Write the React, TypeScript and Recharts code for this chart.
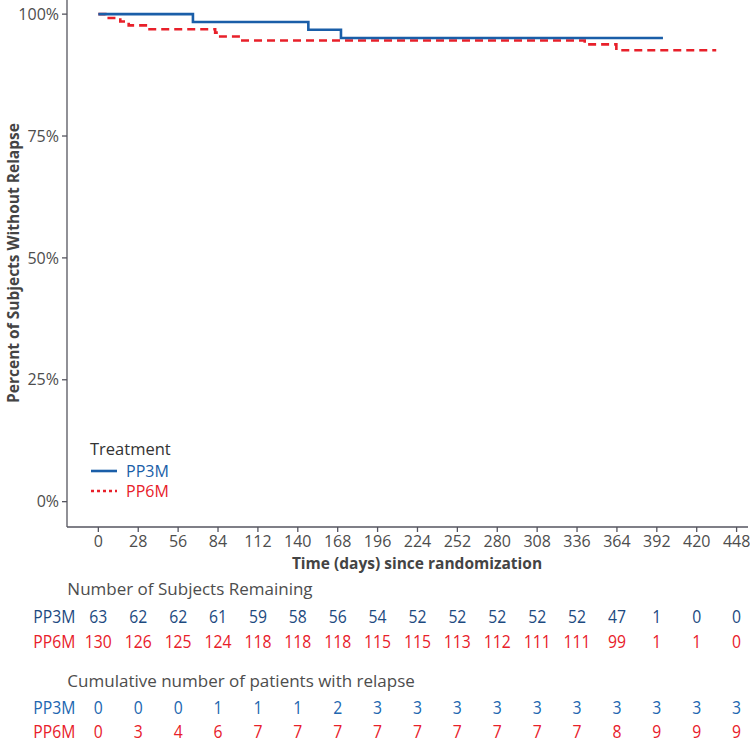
import React from 'react';
import { ComposedChart, Line, XAxis, YAxis } from 'recharts';

const pp3mCurve = [
  { t: 0, s: 100 },
  { t: 66.4, s: 98.4 },
  { t: 147.4, s: 96.8 },
  { t: 170.3, s: 95.1 },
  { t: 396.3, s: 95.1 },
];
const pp6mCurve = [
  { t: 0, s: 100 },
  { t: 4.9, s: 99.2 },
  { t: 15.4, s: 98.5 },
  { t: 21.3, s: 97.7 },
  { t: 34.6, s: 96.9 },
  { t: 82, s: 96.2 },
  { t: 84.4, s: 95.4 },
  { t: 99.5, s: 94.6 },
  { t: 341.4, s: 93.8 },
  { t: 363.6, s: 92.6 },
  { t: 433.7, s: 92.6 },
];
const timeTicks = [0, 28, 56, 84, 112, 140, 168, 196, 224, 252, 280, 308, 336, 364, 392, 420, 448];
const yTicks = [0, 25, 50, 75, 100];
const remainingPP3M = [63, 62, 62, 61, 59, 58, 56, 54, 52, 52, 52, 52, 52, 47, 1, 0, 0];
const remainingPP6M = [130, 126, 125, 124, 118, 118, 118, 115, 115, 113, 112, 111, 111, 99, 1, 1, 0];
const relapsePP3M = [0, 0, 0, 1, 1, 1, 2, 3, 3, 3, 3, 3, 3, 3, 3, 3, 3];
const relapsePP6M = [0, 3, 4, 6, 7, 7, 7, 7, 7, 7, 7, 7, 7, 8, 9, 9, 9];

const BLUE = '#1a5ea8';
const NAVY = '#1d4a7f';
const BLUE2 = '#2166b0';
const RED = '#e8202a';
const AXIS = '#55555f';
const TXT = '#4d4d4d';
const FONT = '"Open Sans", sans-serif';

const T = ({ x, y, anchor = 'middle', fill, size = 17.5, sx = 0.9, children }: any) => (
  <text
    transform={`translate(${x} ${y}) scale(${sx} 1)`}
    x={0}
    y={0}
    textAnchor={anchor}
    dominantBaseline="central"
    fill={fill}
    fontSize={size}
    fontFamily={FONT}
  >
    {children}
  </text>
);

const TableTick = (props: any) => {
  const { x, y, payload, index } = props;
  const i = index ?? timeTicks.indexOf(payload.value);
  const isFirst = payload.value === 0;
  return (
    <g>
      {isFirst && (
        <g>
          <T x={x - 31} y={y + 11} anchor="start" fill={TXT} size={17} sx={1}>Number of Subjects Remaining</T>
          <T x={x - 65} y={y + 39} anchor="start" fill={NAVY}>PP3M</T>
          <T x={x - 65} y={y + 64} anchor="start" fill={RED}>PP6M</T>
          <T x={x - 31} y={y + 103} anchor="start" fill={TXT} size={17} sx={1}>Cumulative number of patients with relapse</T>
          <T x={x - 65} y={y + 130} anchor="start" fill={BLUE2}>PP3M</T>
          <T x={x - 65} y={y + 154.5} anchor="start" fill={RED}>PP6M</T>
        </g>
      )}
      <T x={x} y={y + 39} fill={NAVY}>{remainingPP3M[i]}</T>
      <T x={x} y={y + 64} fill={RED}>{remainingPP6M[i]}</T>
      <T x={x} y={y + 130} fill={BLUE2}>{relapsePP3M[i]}</T>
      <T x={x} y={y + 154.5} fill={RED}>{relapsePP6M[i]}</T>
    </g>
  );
};

export default function App() {
  return (
    <div style={{ position: 'absolute', left: 0, top: 0, width: 750, height: 741, fontFamily: FONT }}>
      <ComposedChart width={750} height={741} margin={{ top: 0, right: 2, bottom: 0, left: 0 }}>
        <XAxis
          xAxisId={0}
          type="number"
          dataKey="t"
          domain={[-22, 456]}
          ticks={timeTicks}
          allowDataOverflow
          height={50}
          tickSize={5}
          tickMargin={4}
          stroke={AXIS}
          strokeWidth={1.3}
          tick={{ fill: TXT, fontSize: 16, fontFamily: FONT }}
          label={{
            content: (p: any) => (
              <text x={417} y={p.viewBox.y + 36} textAnchor="middle" dominantBaseline="central" fill="#444" fontSize={15.5} fontWeight="bold" fontFamily={FONT}>
                Time (days) since randomization
              </text>
            ),
          }}
        />
        <XAxis
          xAxisId="tbl"
          type="number"
          dataKey="t"
          domain={[-22, 456]}
          ticks={timeTicks}
          allowDataOverflow
          height={164}
          tickSize={0}
          tickMargin={0}
          axisLine={false}
          tickLine={false}
          interval={0}
          tick={<TableTick />}
        />
        <YAxis
          type="number"
          domain={[-5.2, 102.9]}
          ticks={yTicks}
          allowDataOverflow
          width={67}
          tickSize={5}
          tickMargin={3}
          stroke={AXIS}
          strokeWidth={1.3}
          tickFormatter={(v: number) => `${v}%`}
          tick={{ fill: TXT, fontSize: 16, fontFamily: FONT }}
          label={{
            content: () => (
              <text
                x={13}
                y={263}
                textAnchor="middle"
                dominantBaseline="central"
                transform="rotate(-90 13 263)"
                fill="#444"
                fontSize={15.5}
                fontWeight="bold"
                fontFamily={FONT}
              >
                Percent of Subjects Without Relapse
              </text>
            ),
          }}
        />
        <Line
          data={pp6mCurve}
          dataKey="s"
          type="stepAfter"
          stroke={RED}
          strokeWidth={2.6}
          strokeDasharray="8 5"
          dot={false}
          activeDot={false}
          isAnimationActive={false}
        />
        <Line
          data={pp3mCurve}
          dataKey="s"
          type="stepAfter"
          stroke={BLUE}
          strokeWidth={2.6}
          dot={false}
          activeDot={false}
          isAnimationActive={false}
        />
      </ComposedChart>
      <div style={{ position: 'absolute', left: 90, top: 438, fontFamily: FONT }}>
        <div style={{ fontSize: 16.5, color: '#333', lineHeight: '22px' }}>Treatment</div>
        <div style={{ display: 'flex', alignItems: 'center', height: 20, marginTop: 1 }}>
          <svg width={36} height={20}>
            <line x1={1} y1={10} x2={27} y2={10} stroke={BLUE} strokeWidth={2.6} />
          </svg>
          <span style={{ fontSize: 16, color: BLUE }}>PP3M</span>
        </div>
        <div style={{ display: 'flex', alignItems: 'center', height: 20 }}>
          <svg width={36} height={20}>
            <line x1={1} y1={10} x2={27} y2={10} stroke={RED} strokeWidth={2.6} strokeDasharray="3 3" />
          </svg>
          <span style={{ fontSize: 16, color: RED }}>PP6M</span>
        </div>
      </div>
    </div>
  );
}
